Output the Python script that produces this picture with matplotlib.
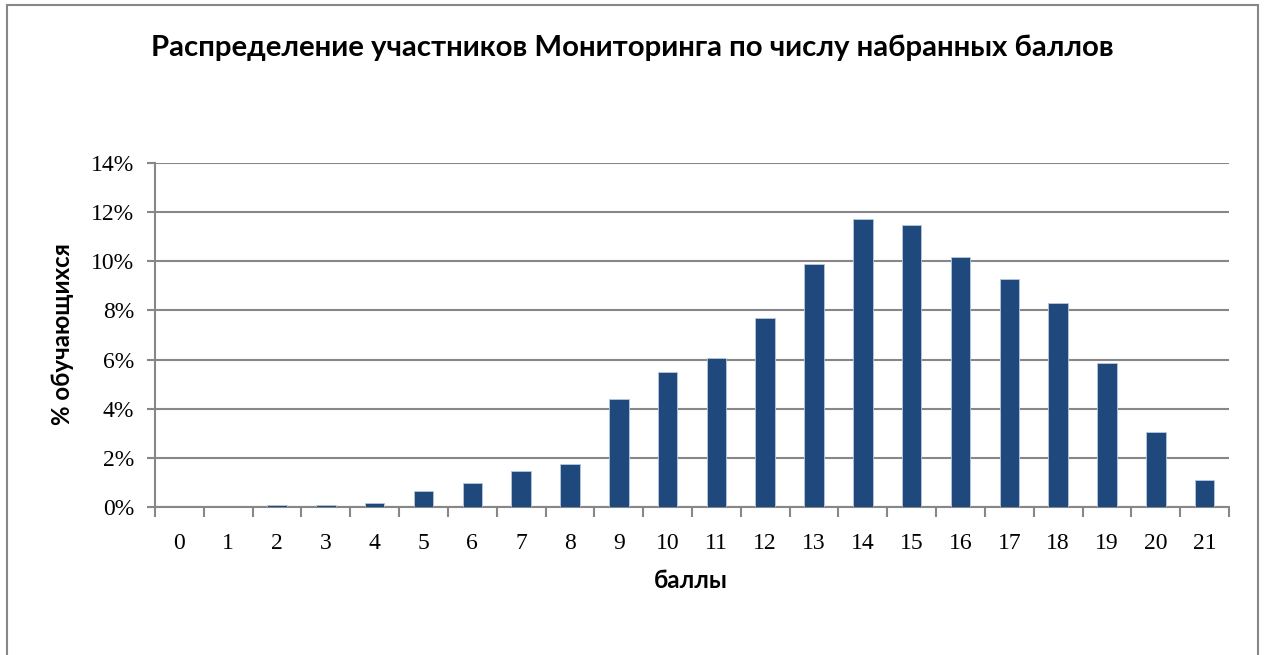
import matplotlib
matplotlib.use("Agg")
import matplotlib.pyplot as plt
from matplotlib.patches import Rectangle
from matplotlib.ticker import FuncFormatter, MultipleLocator

# данные с диаграммы
баллы = list(range(22))
доли = [0.0, 0.0, 0.07, 0.07, 0.16, 0.67, 0.97, 1.48, 1.77, 4.38, 5.48,
        6.07, 7.69, 9.88, 11.71, 11.49, 10.19, 9.29, 8.29, 5.88, 3.07, 1.08]

title = "Распределение участников Мониторинга по числу набранных баллов"
ylabel = "% обучающихся"
xlabel = "баллы"

W, H = 1264, 655
fig = plt.figure(figsize=(W / 100, H / 100), dpi=100)
ax = fig.add_axes([155 / W, 1 - 507 / H, (1229 - 155) / W, (507 - 163) / H])

grey = "#878787"
ax.bar(баллы, доли, width=0.4, color="#1F497D", edgecolor="#B9C9DE", linewidth=0.6, zorder=3)

ax.set_xlim(-0.5, 21.5)
ax.set_ylim(0, 14)
ax.yaxis.set_major_locator(MultipleLocator(2))
ax.yaxis.set_major_formatter(FuncFormatter(lambda v, p: f"{v:.0f}%"))
ax.grid(axis="y", color=grey, linewidth=1.5, zorder=0)

ax.set_xticks(баллы)
ax.set_xticks([i - 0.5 for i in range(23)], minor=True)
ax.tick_params(axis="x", which="major", length=0, pad=19)
ax.tick_params(axis="x", which="minor", length=7, width=1.5, color=grey)
ax.tick_params(axis="y", length=6, width=1.5, color=grey, pad=9)
for lab in ax.get_xticklabels() + ax.get_yticklabels():
    lab.set_fontfamily("Liberation Serif")
    lab.set_fontsize(17)

for s in ["top", "right"]:
    ax.spines[s].set_visible(False)
for s in ["left", "bottom"]:
    ax.spines[s].set_color(grey)
    ax.spines[s].set_linewidth(1.5)

fig.text(632 / W, 1 - 48 / H, title, ha="center", va="center",
         fontsize=21.2, fontweight="bold", family="Lato")
fig.text(62 / W, 1 - 334 / H, ylabel, ha="center", va="center", rotation=90,
         fontsize=17.3, fontweight="bold", family="Lato")
fig.text(691 / W, 1 - 580 / H, xlabel, ha="center", va="center",
         fontsize=17.5, fontweight="bold", family="Lato")

fig.patches.append(Rectangle((7 / W, -0.1), (1258 - 7) / W, 1.1 - 5 / H,
                             transform=fig.transFigure, fill=False,
                             edgecolor=grey, linewidth=1.5))

fig.savefig("out.png", dpi=100)
